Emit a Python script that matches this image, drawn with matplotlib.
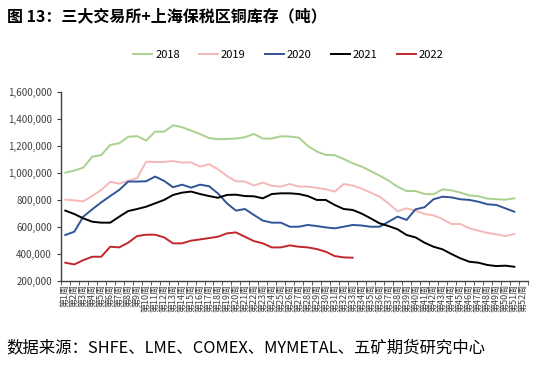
import matplotlib
matplotlib.use("Agg")
import matplotlib.pyplot as plt
from matplotlib.ticker import FuncFormatter

plt.rcParams["font.family"] = ["Noto Sans CJK SC", "DejaVu Sans"]

# 周次
weeks = [f"第{i}周" for i in range(1, 53)]

# 库存数据（吨），按周读取
y2018 = [1000000, 1015000, 1037000, 1118000, 1130000, 1205000, 1217000, 1265000, 1270000, 1237000,
         1303000, 1303000, 1350000, 1336000, 1311000, 1286000, 1256000, 1247000, 1249000, 1252000,
         1262000, 1286000, 1252000, 1252000, 1269000, 1267000, 1259000, 1198000, 1156000, 1131000,
         1129000, 1101000, 1069000, 1045000, 1012000, 978000, 941000, 896000, 864000, 864000,
         842000, 840000, 877000, 869000, 852000, 832000, 825000, 808000, 803000, 800000, 810000]
y2019 = [800000, 795000, 788000, 827000, 872000, 932000, 919000, 939000, 960000, 1081000,
         1079000, 1079000, 1086000, 1074000, 1076000, 1044000, 1062000, 1025000, 975000, 936000,
         934000, 905000, 926000, 903000, 897000, 916000, 897000, 897000, 887000, 877000,
         860000, 916000, 904000, 882000, 852000, 822000, 772000, 714000, 736000, 719000,
         694000, 684000, 657000, 620000, 620000, 588000, 571000, 554000, 544000, 531000, 546000]
y2020 = [539000, 563000, 674000, 729000, 780000, 827000, 872000, 934000, 934000, 936000,
         971000, 939000, 892000, 911000, 889000, 911000, 900000, 846000, 773000, 719000,
         731000, 687000, 645000, 630000, 630000, 600000, 600000, 613000, 605000, 595000,
         588000, 600000, 613000, 609000, 600000, 600000, 637000, 675000, 650000, 729000,
         744000, 803000, 822000, 817000, 803000, 798000, 785000, 766000, 761000, 736000, 711000]
y2021 = [719000, 694000, 662000, 637000, 630000, 630000, 674000, 716000, 731000, 748000,
         773000, 798000, 835000, 852000, 860000, 842000, 827000, 814000, 835000, 837000,
         827000, 825000, 810000, 842000, 847000, 847000, 842000, 827000, 798000, 798000,
         761000, 731000, 724000, 697000, 662000, 625000, 605000, 581000, 539000, 521000,
         482000, 452000, 433000, 398000, 366000, 341000, 334000, 317000, 309000, 312000, 304000]
y2022 = [334000, 321000, 353000, 378000, 378000, 452000, 447000, 482000, 531000, 541000,
         541000, 521000, 477000, 477000, 497000, 506000, 516000, 526000, 551000, 558000,
         526000, 494000, 477000, 447000, 447000, 462000, 452000, 447000, 435000, 415000,
         383000, 373000, 371000]

series = [
    ("2018", y2018, "#A9D18E"),
    ("2019", y2019, "#F4B8B8"),
    ("2020", y2020, "#2F5597"),
    ("2021", y2021, "#000000"),
    ("2022", y2022, "#C0272D"),
]

fig = plt.figure(figsize=(5.43, 3.69), dpi=100)
ax = fig.add_axes([0.112, 0.239, 0.86, 0.513])

for name, vals, color in series:
    x = list(range(1, len(vals) + 1))
    ax.plot(x, vals, color=color, linewidth=1.4, label=name)

ax.set_xlim(0.5, 52.5)
ax.set_ylim(200000, 1600000)
ax.set_yticks(range(200000, 1600001, 200000))
ax.yaxis.set_major_formatter(FuncFormatter(lambda v, p: f"{int(v):,}"))

ax.set_xticks(range(1, 53))
ax.set_xticklabels(weeks, rotation=90, fontsize=6.5, color="#404040")
ax.set_xticks([i + 0.5 for i in range(0, 53)], minor=True)
ax.tick_params(axis="x", which="major", length=0, pad=2)
ax.tick_params(axis="x", which="minor", length=3, direction="out", color="#404040")
ax.tick_params(axis="y", length=3, direction="out", labelsize=7, labelcolor="#404040", color="#404040")

for s in ["top", "right"]:
    ax.spines[s].set_visible(False)
for s in ["left", "bottom"]:
    ax.spines[s].set_color("#404040")
    ax.spines[s].set_linewidth(1.0)

fig.legend(loc="center", bbox_to_anchor=(0.531, 0.852), ncol=5, frameon=False,
           fontsize=8, handlelength=1.7, columnspacing=1.75, handletextpad=0.25)

fig.text(0.012, 0.955, "图 13：三大交易所+上海保税区铜库存（吨）", fontsize=11.5,
         fontweight="bold", va="center", ha="left")
fig.text(0.012, 0.058, "数据来源：SHFE、LME、COMEX、MYMETAL、五矿期货研究中心", fontsize=11.8,
         va="center", ha="left")

fig.savefig("out.png", dpi=100)
